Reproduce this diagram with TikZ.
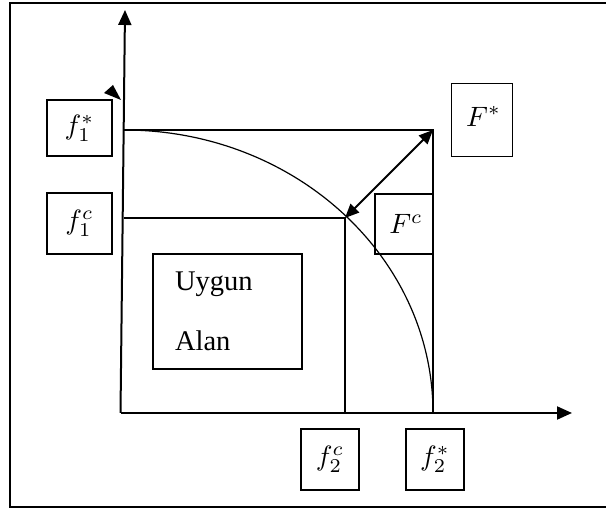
\documentclass[tikz,border=0pt]{standalone}
\usepackage{graphicx}
\usepackage{fontspec}
\setmainfont{Liberation Serif}
\usetikzlibrary{arrows.meta}
\newcommand{\bigmath}[1]{\scalebox{2.8}{$#1$}}
\tikzset{
  axis/.style={line width=2pt,-{Triangle[length=15pt,width=13pt]}},
  guide/.style={line width=1.5pt},
  labelbox/.style={draw,line width=1.2pt,inner sep=0pt},
  areabox/.style={draw,line width=1.4pt,inner xsep=22pt,align=left,font=\fontsize{28.5}{60}\selectfont},
  frame/.style={line width=1.6pt},
}
\begin{document}
\begin{tikzpicture}[x=1pt,y=1pt]
\useasboundingbox (0,0) rectangle (606,508);
\begin{scope}
\clip (0,0) rectangle (606,508);
\draw[frame] (10,1) rectangle (620,505);
\end{scope}
% coordinates
\coordinate (O) at (120.5,95);
\coordinate (Ytop) at (125,498);
\coordinate (Xend) at (572,95);
\coordinate (A) at (124,378);
\coordinate (Fs) at (433,378);
\coordinate (Fc) at (345,290);
\coordinate (B) at (124,290);
\coordinate (X2c) at (345,95);
\coordinate (X2s) at (433,95);
% axes
\draw[axis] (O) -- (Ytop);
\draw[axis] (O) -- (Xend);
% small stray arrowhead
\fill (104,415) -- (113,423) -- (121,408) -- cycle;
% guides
\draw[guide] (A) -- (Fs) -- (X2s);
\draw[guide] (B) -- (Fc) -- (X2c);
\draw[line width=1.2pt] (A) arc[start angle=90,end angle=0,x radius=309,y radius=283];
\draw[line width=2pt,{Triangle[length=14pt,width=12pt]}-{Triangle[length=14pt,width=12pt]}] (Fc) -- (Fs);
% label boxes
\node[labelbox,minimum width=65pt,minimum height=56pt] (f1s) at (79.5,380) {\bigmath{f_1^*}};
\node[labelbox,minimum width=65pt,minimum height=61pt] (f1c) at (79.5,284.5) {\bigmath{f_1^c}};
\node[labelbox,line width=0.9pt,minimum width=61pt,minimum height=73pt] (Fstar) at (481.5,388.5) {\raisebox{6pt}{\hspace{4pt}\bigmath{F^*}}};
\node[labelbox,minimum width=58pt,minimum height=60pt] (Fcb) at (404,284) {\hspace{4pt}\bigmath{F^c}};
\node[labelbox,minimum width=58pt,minimum height=61pt] (f2c) at (330,48.5) {\bigmath{f_2^c}};
\node[labelbox,minimum width=58pt,minimum height=61pt] (f2s) at (435,48.5) {\bigmath{f_2^*}};
\node[areabox,text width=105pt,minimum height=115pt] (area) at (227.5,196.5) {Uygun\\Alan};
\end{tikzpicture}
\end{document}
